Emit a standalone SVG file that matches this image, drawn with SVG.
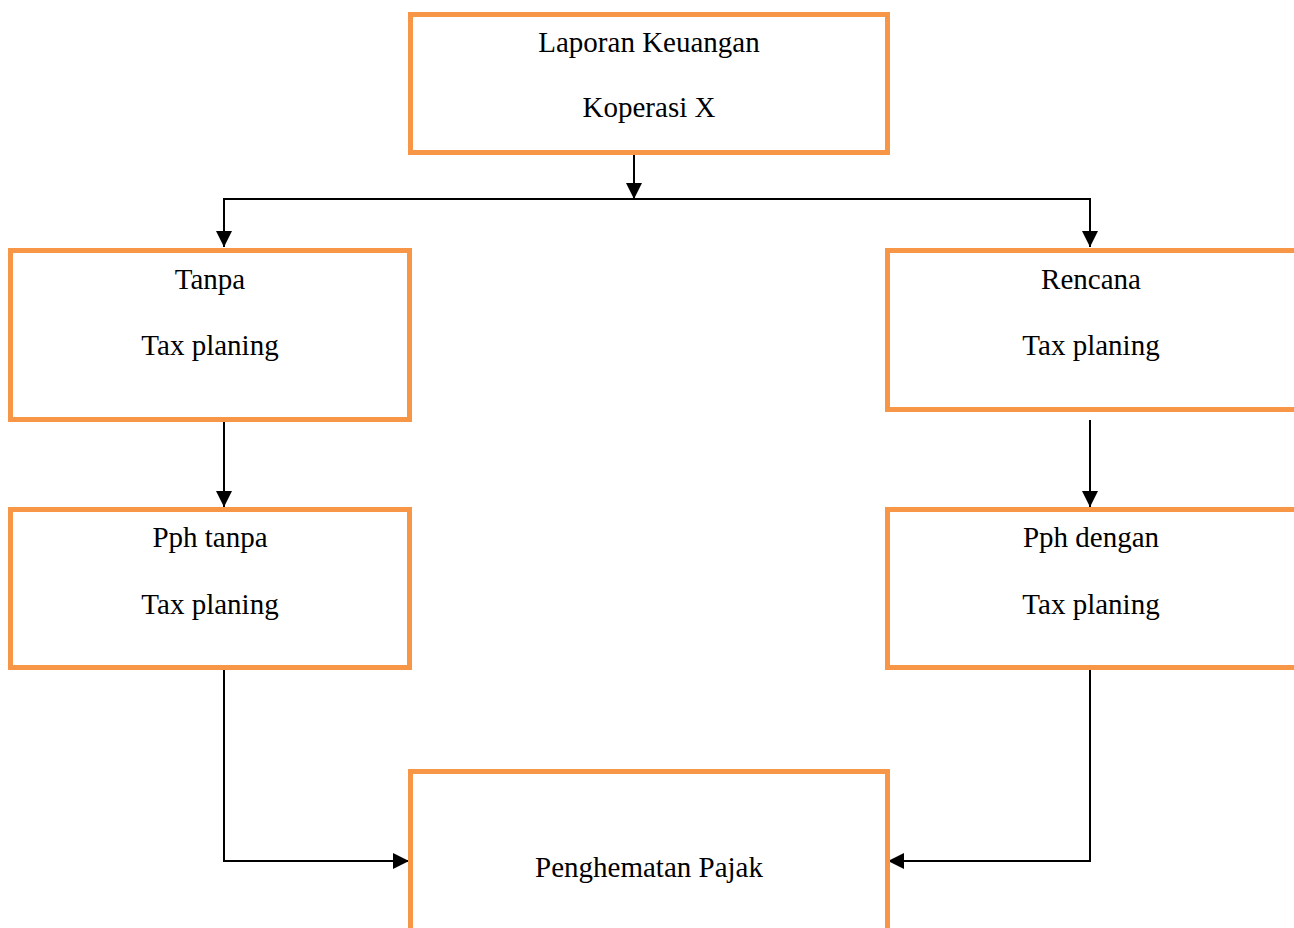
<svg xmlns="http://www.w3.org/2000/svg" width="1294" height="928" viewBox="0 0 1294 928">
<style>
.box{fill:#fff;stroke:#F79646;stroke-width:5}
.t{font-family:"Liberation Serif","Times New Roman",serif;font-size:29px;fill:#000;text-anchor:middle}
.c{fill:none;stroke:#000;stroke-width:2}
</style>
<defs>
<marker id="ah" markerUnits="userSpaceOnUse" markerWidth="16" markerHeight="16" viewBox="0 0 16 16" refX="16" refY="8" orient="auto">
<path d="M0,0 L16,8 L0,16 Z" fill="#000"/>
</marker>
</defs>
<rect width="1294" height="928" fill="#fff"/>
<g id="connectors">
<line class="c" x1="634" y1="155" x2="634" y2="199" marker-end="url(#ah)"/>
<line class="c" x1="223" y1="199" x2="1091" y2="199"/>
<line class="c" x1="224" y1="199" x2="224" y2="247" marker-end="url(#ah)"/>
<line class="c" x1="1090" y1="199" x2="1090" y2="247" marker-end="url(#ah)"/>
<line class="c" x1="224" y1="422" x2="224" y2="507" marker-end="url(#ah)"/>
<line class="c" x1="1090" y1="420" x2="1090" y2="507" marker-end="url(#ah)"/>
<path class="c" d="M224,669 L224,861 L409,861" marker-end="url(#ah)"/>
<path class="c" d="M1090,669 L1090,861 L888,861" marker-end="url(#ah)"/>
</g>
<g id="n1">
<rect class="box" x="410.5" y="14.5" width="477" height="138"/>
<text class="t" x="649" y="52">Laporan Keuangan</text>
<text class="t" x="649" y="117">Koperasi X</text>
</g>
<g id="n2">
<rect class="box" x="10.5" y="250.5" width="399" height="169"/>
<text class="t" x="210" y="289">Tanpa</text>
<text class="t" x="210" y="355">Tax planing</text>
</g>
<g id="n3">
<rect class="box" x="887.5" y="250.5" width="420" height="159"/>
<text class="t" x="1091" y="289">Rencana</text>
<text class="t" x="1091" y="355">Tax planing</text>
</g>
<g id="n4">
<rect class="box" x="10.5" y="509.5" width="399" height="158"/>
<text class="t" x="210" y="547">Pph tanpa</text>
<text class="t" x="210" y="614">Tax planing</text>
</g>
<g id="n5">
<rect class="box" x="887.5" y="509.5" width="420" height="158"/>
<text class="t" x="1091" y="547">Pph dengan</text>
<text class="t" x="1091" y="614">Tax planing</text>
</g>
<g id="n6">
<rect class="box" x="410.5" y="771.5" width="477" height="180"/>
<text class="t" x="649" y="877">Penghematan Pajak</text>
</g>
</svg>
